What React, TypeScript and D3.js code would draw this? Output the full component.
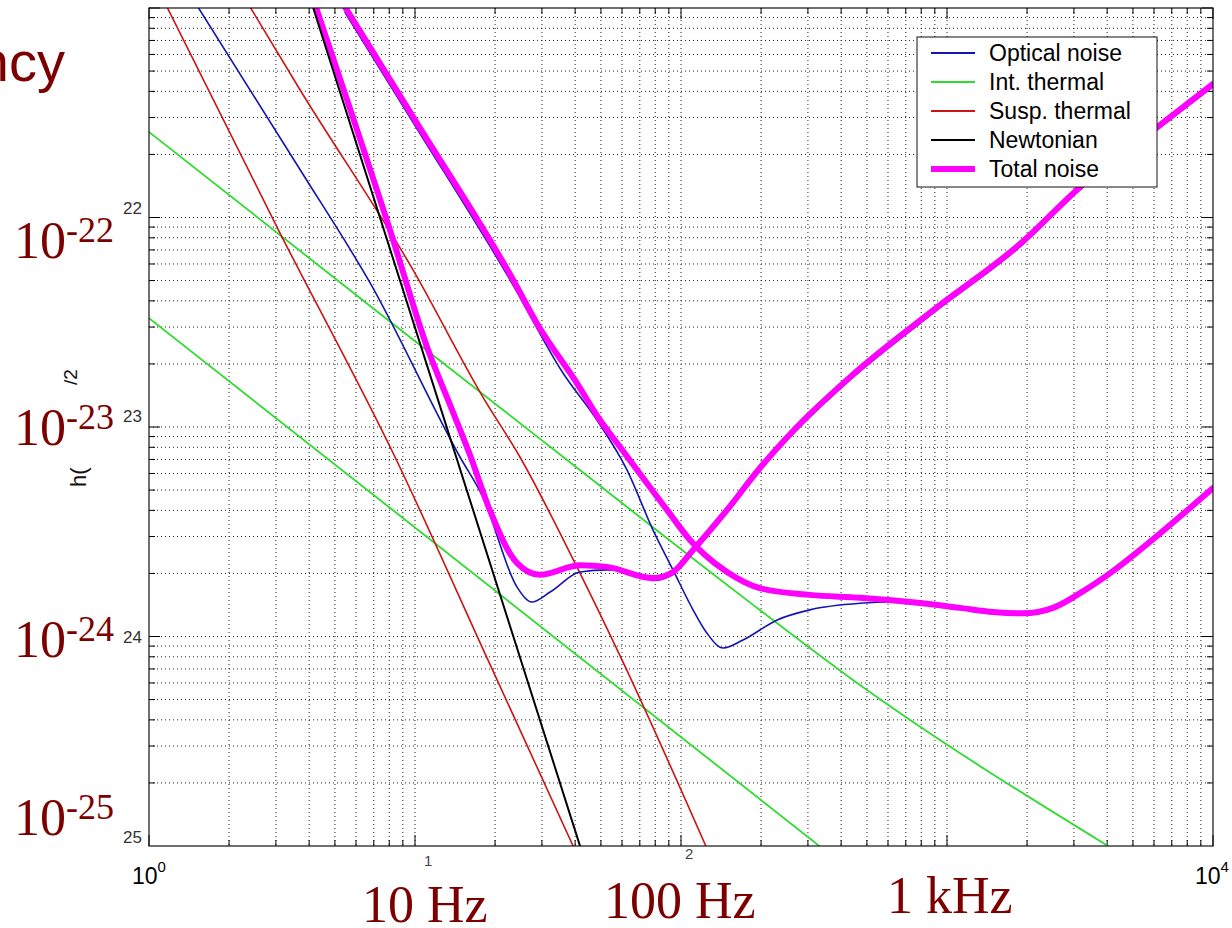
import React from "react";
import * as d3 from "d3";

type P = [number, number];

// Optical noise, configuration A (low-frequency dominated, rises at high f under total A)
const opticalA: P[] = [
  [1.528, 1.01e-21], [3.7, 1.69e-22], [6.78, 4.87e-23], [14.76, 7.19e-24], [18.0, 4.63e-24],
  [24.2, 1.72e-24], [27.5, 1.46e-24], [32.2, 1.63e-24], [41.7, 2.03e-24], [52.7, 2.08e-24],
  [70.1, 1.97e-24], [78.5, 1.85e-24], [93.3, 1.98e-24], [111, 2.52e-24], [149, 3.9e-24],
  [198, 6.2e-24], [270.5, 9.6e-24], [432, 1.68e-23], [901, 3.55e-23], [1881, 7.25e-23],
  [3190, 1.37e-22], [6105, 2.6e-22], [10000, 4.22e-22],
];
// Optical noise, configuration B
const opticalB: P[] = [
  [5.46, 9.5e-22], [9.83, 2.85e-22], [23.4, 4.75e-23], [36.0, 1.81e-23], [48.3, 1.08e-23],
  [62.7, 6.23e-24], [78.5, 3.22e-24], [93.3, 2.08e-24], [111, 1.34e-24], [125, 1.04e-24],
  [144, 8.81e-25], [171, 9.62e-25], [230, 1.2e-24], [305, 1.34e-24], [471, 1.44e-24],
  [627, 1.46e-24], [966, 1.38e-24], [1297, 1.32e-24], [1931, 1.27e-24], [2502, 1.35e-24],
  [3162, 1.58e-24], [4355, 2.09e-24], [5316, 2.56e-24], [10000, 5.05e-24],
];
const intThermalA: P[] = [
  [1, 2.56e-22], [6.78, 3.78e-23], [37.3, 6.96e-24], [166.7, 1.58e-24], [443, 6.2e-25], [4030, 1.0e-25],
];
const intThermalB: P[] = [[1, 3.31e-23], [400, 8.28e-26]];
const suspThermalA: P[] = [
  [1.169, 1.01e-21], [3.108, 8.43e-23], [8.41, 7.19e-24], [18.8, 7.73e-25], [39.3, 1.0e-25],
];
const suspThermalB: P[] = [
  [2.4, 1.01e-21], [3.7, 4.06e-22], [9.83, 5.62e-23], [18.0, 1.39e-23], [24.8, 7.19e-24],
  [40.6, 2.15e-24], [60.0, 7.73e-25], [124, 1.0e-25],
];
const newtonian: P[] = [[4.135, 1.01e-21], [45, 7.4e-26]];
const totalA: P[] = [
  [4.24, 1.01e-21], [8.12, 8.43e-23], [11.2, 2.33e-23], [13.3, 1.35e-23], [16.1, 7.35e-24],
  [19.1, 4.02e-24], [24.2, 2.24e-24], [29.5, 1.97e-24], [41.7, 2.19e-24], [52.7, 2.15e-24],
  [78.5, 1.9e-24], [93.3, 2.03e-24], [111, 2.59e-24], [149, 4.02e-24], [198, 6.37e-24],
  [270.5, 9.89e-24], [432, 1.73e-23], [901, 3.66e-23], [1881, 7.47e-23], [3190, 1.41e-22],
  [6105, 2.67e-22], [10000, 4.34e-22],
];
const totalB: P[] = [
  [5.46, 1.01e-21], [9.83, 3.02e-22], [23.4, 5.03e-23], [28.7, 3.13e-23], [40.6, 1.62e-23],
  [49.6, 1.08e-23], [59.0, 8.03e-24], [88.6, 4.02e-24], [108.1, 2.89e-24], [123.1, 2.45e-24],
  [149, 2.03e-24], [198, 1.7e-24], [305, 1.58e-24], [471, 1.53e-24],
  [726, 1.46e-24], [1119, 1.37e-24], [1489, 1.31e-24], [1931, 1.29e-24], [2502, 1.37e-24],
  [3162, 1.61e-24], [4355, 2.12e-24], [5316, 2.59e-24], [10000, 5.11e-24],
];

const legendLabels = ["Optical noise", "Int. thermal", "Susp. thermal", "Newtonian", "Total noise"];
const legendColors = ["#1414b0", "#2edc2e", "#cc1414", "#000000", "#ff00ff"];
const yExpLabels = ["-22", "-23", "-24", "-25"];
const yTickFragments = ["22", "23", "24", "25"];
const freqLabels = ["10 Hz", "100 Hz", "1 kHz"];

const W = 1232;
const H = 928;
const L = 149, R = 1213, T = 8, B = 846;

export default function App() {
  const x = d3.scaleLog().domain([1, 1e4]).range([L, R]);
  const y = d3.scaleLog().domain([1e-25, 1e-21]).range([B, T]);
  const line = d3
    .line<P>()
    .x((d) => x(d[0]))
    .y((d) => y(d[1]))
    .curve(d3.curveMonotoneX);

  const isMajor = (v: number) => Math.abs(Math.log10(v) - Math.round(Math.log10(v))) < 1e-6;
  const xt = x.ticks();
  const yt = y.ticks();
  const dark = "#7d0000";
  const sans = "'Liberation Sans', Arial, sans-serif";
  const serif = "'Liberation Serif', 'Times New Roman', serif";

  const yLabelBase = [258, 445, 657, 835];
  const yFragY = [214, 422, 643, 843];

  return (
    <svg width={W} height={H} style={{ position: "absolute", left: 0, top: 0, background: "#fff" }}>
      <rect x={0} y={0} width={W} height={H} fill="#fff" />
      <defs>
        <clipPath id="plot">
          <rect x={L} y={T} width={R - L} height={B - T} />
        </clipPath>
      </defs>
      {/* grid */}
      <g stroke="#222" strokeWidth={1} strokeDasharray="1 3">
        {xt.filter((v) => v > 1 && v < 1e4).map((v, i) => (
          <line key={"gx" + i} x1={x(v)} x2={x(v)} y1={T} y2={B} />
        ))}
        {yt.filter((v) => v > 1.01e-25 && v < 0.99e-21).map((v, i) => (
          <line key={"gy" + i} x1={L} x2={R} y1={y(v)} y2={y(v)} />
        ))}
      </g>
      {/* ticks */}
      <g stroke="#000" strokeWidth={1}>
        {xt.map((v, i) => {
          const len = isMajor(v) ? 11 : 6;
          return (
            <g key={"tx" + i}>
              <line x1={x(v)} x2={x(v)} y1={B} y2={B - len} />
              <line x1={x(v)} x2={x(v)} y1={T} y2={T + len} />
            </g>
          );
        })}
        {yt.map((v, i) => {
          const len = isMajor(v) ? 11 : 6;
          return (
            <g key={"ty" + i}>
              <line x1={L} x2={L + len} y1={y(v)} y2={y(v)} />
              <line x1={R} x2={R - len} y1={y(v)} y2={y(v)} />
            </g>
          );
        })}
      </g>
      {/* curves */}
      <g clipPath="url(#plot)" fill="none" strokeLinejoin="round" strokeLinecap="round">
        <path d={line(intThermalA) || ""} stroke={legendColors[1]} strokeWidth={1.8} />
        <path d={line(intThermalB) || ""} stroke={legendColors[1]} strokeWidth={1.8} />
        <path d={line(suspThermalA) || ""} stroke={legendColors[2]} strokeWidth={1.6} />
        <path d={line(suspThermalB) || ""} stroke={legendColors[2]} strokeWidth={1.6} />
        <path d={line(opticalA) || ""} stroke={legendColors[0]} strokeWidth={1.6} />
        <path d={line(opticalB) || ""} stroke={legendColors[0]} strokeWidth={1.6} />
        <path d={line(totalA) || ""} stroke={legendColors[4]} strokeWidth={6} />
        <path d={line(totalB) || ""} stroke={legendColors[4]} strokeWidth={6} />
        <path d={line(newtonian) || ""} stroke={legendColors[3]} strokeWidth={2} />
      </g>
      {/* frame */}
      <rect x={L} y={T} width={R - L} height={B - T} fill="none" stroke="#111" strokeWidth={1.2} />
      {/* legend */}
      <g>
        <rect x={917} y={37} width={240} height={150} fill="#fff" stroke="#111" strokeWidth={1} />
        {legendLabels.map((lab, i) => {
          const cy = 53 + i * 29;
          return (
            <g key={lab}>
              <line x1={931} x2={975} y1={cy} y2={cy} stroke={legendColors[i]} strokeWidth={i === 4 ? 6 : 1.8} />
              <text x={989} y={cy + 8} fontFamily={sans} fontSize={23} fill="#000">
                {lab}
              </text>
            </g>
          );
        })}
      </g>
      {/* axis tick label fragments */}
      {yTickFragments.map((t, i) => (
        <text key={t} x={142} y={yFragY[i]} textAnchor="end" fontFamily={sans} fontSize={17} fill="#333">
          {t}
        </text>
      ))}
      <text x={132} y={884} fontFamily={sans} fontSize={23} fill="#000">
        10<tspan dy={-12} fontSize={15}>0</tspan>
      </text>
      <text x={1195} y={884} fontFamily={sans} fontSize={23} fill="#000">
        10<tspan dy={-12} fontSize={15}>4</tspan>
      </text>
      <text x={424} y={866} fontFamily={sans} fontSize={15} fill="#444">1</text>
      <text x={685} y={859} fontFamily={sans} fontSize={15} fill="#444">2</text>
      {/* y label fragments */}
      <text transform="translate(86,487) rotate(-90)" fontFamily={sans} fontSize={22} fill="#111">h(</text>
      <text transform="translate(77,385) rotate(-90)" fontFamily={sans} fontSize={19} fill="#111">/2</text>
      {/* slide overlay labels */}
      <text x={65} y={81} textAnchor="end" fontFamily={sans} fontSize={56} fill={dark}>ncy</text>
      {yExpLabels.map((e, i) => (
        <text key={e} x={14} y={yLabelBase[i]} fontFamily={serif} fontSize={52} fill={dark}>
          10<tspan dy={-16} fontSize={36}>{e}</tspan>
        </text>
      ))}
      <text x={362} y={922} fontFamily={serif} fontSize={52} fill={dark}>{freqLabels[0]}</text>
      <text x={604} y={918} fontFamily={serif} fontSize={52} fill={dark}>{freqLabels[1]}</text>
      <text x={887} y={913} fontFamily={serif} fontSize={52} fill={dark}>{freqLabels[2]}</text>
    </svg>
  );
}
